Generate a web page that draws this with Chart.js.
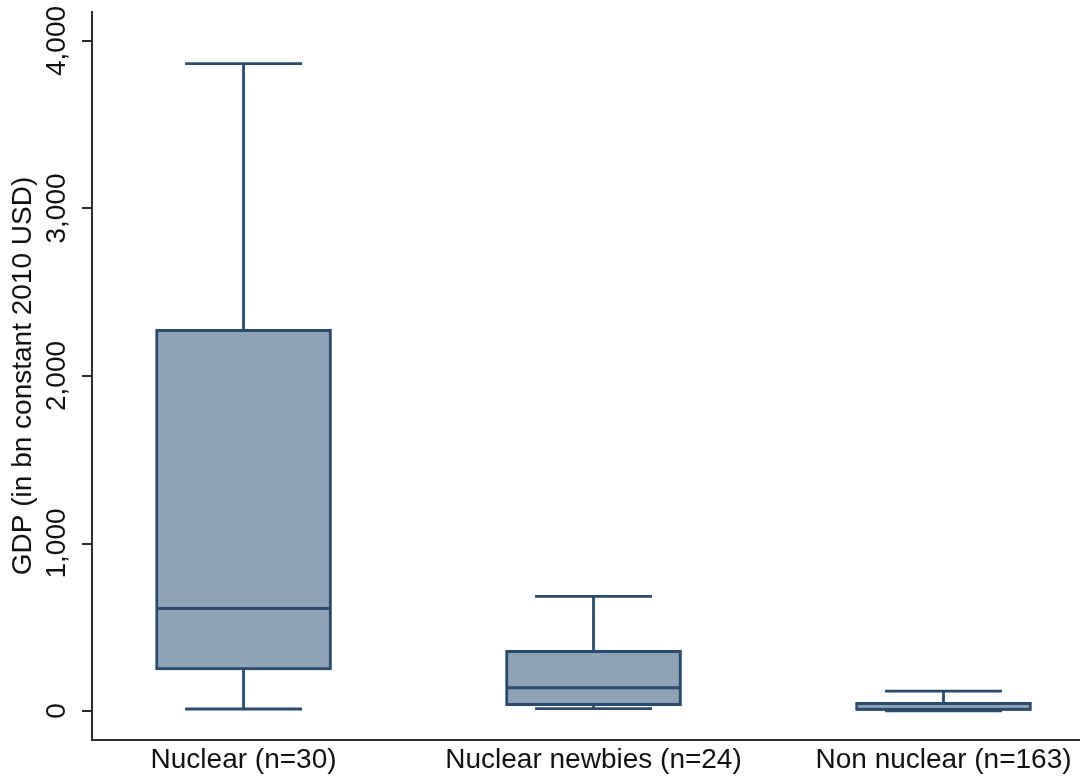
<!DOCTYPE html>
<html>
<head>
<meta charset="utf-8">
<script src="https://cdn.jsdelivr.net/npm/chart.js@4.4.1/dist/chart.umd.min.js"></script>
<style>
  html, body { margin: 0; padding: 0; background: #ffffff; }
  #wrap { width: 1080px; height: 778px; }
</style>
</head>
<body>
<div id="wrap"><canvas id="c" width="1080" height="778"></canvas></div>
<script>
// ---- data ----
const categories   = ["Nuclear (n=30)", "Nuclear newbies (n=24)", "Non nuclear (n=163)"];
const whiskerLow   = [12, 14, 1];
const q1Values     = [245, 32, 3];
const medianValues = [612, 139, 10];
const q3Values     = [2278, 362, 52];
const whiskerHigh  = [3865, 684, 119];
const yTickValues  = [0, 1000, 2000, 3000, 4000];
const yAxisTitle   = "GDP (in bn constant 2010 USD)";

// ---- style constants ----
const BOX_FILL = "#8ea2b8";
const EDGE = "#284b6e";
const AXIS = "#2b2b2b";
const FONT = "'Liberation Sans', Arial, sans-serif";
const CAP_HALF = 0.167;   // half width of whisker caps (x units)
const MED_HALF = 0.25;    // half width of box (x units)

const xs = categories.map((c, i) => i + 1);

const boxData = xs.map((x, i) => ({ x: x, y: [q1Values[i], q3Values[i]] }));

const whiskerPts = [];
xs.forEach((x, i) => {
  whiskerPts.push({x: x, y: q3Values[i]}, {x: x, y: whiskerHigh[i]}, {x: x, y: null});
  whiskerPts.push({x: x - CAP_HALF, y: whiskerHigh[i]}, {x: x + CAP_HALF, y: whiskerHigh[i]}, {x: x, y: null});
  whiskerPts.push({x: x, y: q1Values[i]}, {x: x, y: whiskerLow[i]}, {x: x, y: null});
  whiskerPts.push({x: x - CAP_HALF, y: whiskerLow[i]}, {x: x + CAP_HALF, y: whiskerLow[i]}, {x: x, y: null});
});
const medianPts = [];
xs.forEach((x, i) => {
  medianPts.push({x: x - MED_HALF, y: medianValues[i]}, {x: x + MED_HALF, y: medianValues[i]}, {x: x, y: null});
});

new Chart(document.getElementById("c"), {
  data: {
    datasets: [
      {
        type: "bar",
        data: boxData,
        backgroundColor: BOX_FILL,
        borderColor: EDGE,
        borderWidth: 3,
        borderSkipped: false,
        barThickness: 176,
        order: 3
      },
      {
        type: "line",
        data: whiskerPts,
        borderColor: EDGE,
        borderWidth: 2.8,
        pointRadius: 0,
        spanGaps: false,
        fill: false,
        order: 2
      },
      {
        type: "line",
        data: medianPts,
        borderColor: EDGE,
        borderWidth: 2.8,
        pointRadius: 0,
        spanGaps: false,
        fill: false,
        order: 1
      }
    ]
  },
  options: {
    responsive: false,
    animation: false,
    devicePixelRatio: 1,
    layout: { padding: { top: 12, right: 0, bottom: 0, left: 0 } },
    plugins: { legend: { display: false }, tooltip: { enabled: false } },
    scales: {
      x: {
        type: "linear",
        min: 0.567,
        max: 3.39,
        offset: false,
        grid: { display: false },
        border: { display: true, color: AXIS, width: 2 },
        ticks: {
          autoSkip: false,
          maxRotation: 0,
          minRotation: 0,
          padding: -5,
          color: "#111",
          font: { family: FONT, size: 28 },
          callback: (v) => categories[v - 1]
        },
        afterBuildTicks: (s) => { s.ticks = xs.map(v => ({ value: v })); },
        afterFit: (s) => { s.height = 38; s.paddingLeft = 0; s.paddingRight = 0; }
      },
      y: {
        type: "linear",
        min: -173,
        max: 4173,
        grid: {
          display: true,
          drawOnChartArea: false,
          drawTicks: true,
          tickLength: 10,
          color: AXIS,
          lineWidth: 2
        },
        border: { display: true, color: AXIS, width: 2 },
        ticks: {
          minRotation: 90,
          maxRotation: 90,
          crossAlign: "center",
          padding: -10,
          color: "#111",
          font: { family: FONT, size: 28 },
          callback: (v) => v.toLocaleString("en-US")
        },
        afterBuildTicks: (s) => { s.ticks = yTickValues.map(v => ({ value: v })); },
        afterFit: (s) => { s.width = 92; s.paddingTop = 0; s.paddingBottom = 0; },
        title: {
          display: true,
          text: yAxisTitle,
          color: "#111",
          font: { family: FONT, size: 28 },
          padding: { top: 6, bottom: 0 }
        }
      }
    }
  }
});
</script>
</body>
</html>
